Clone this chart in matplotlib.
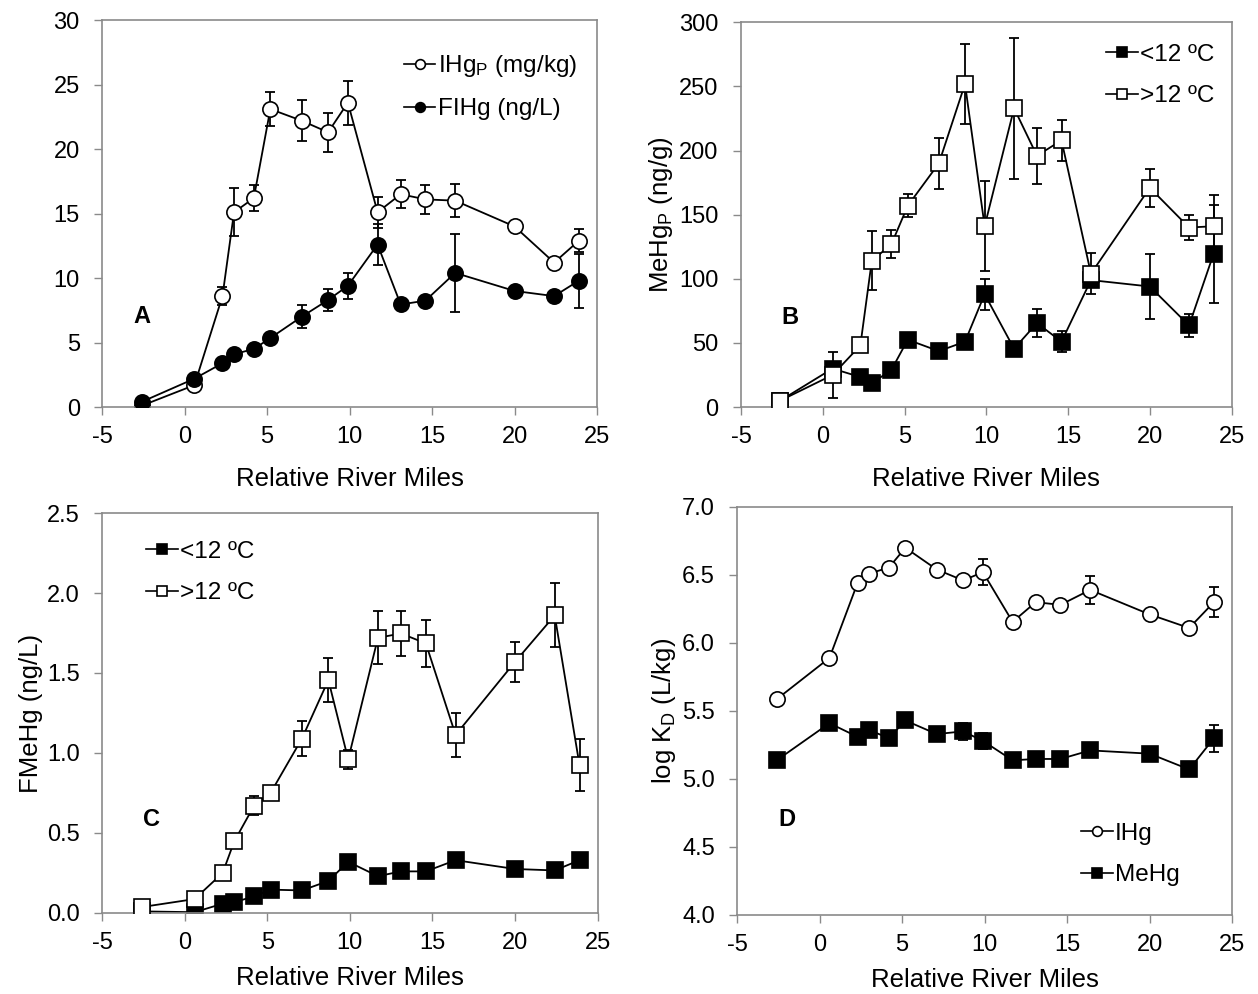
import matplotlib
matplotlib.use('Agg')
import matplotlib.pyplot as plt
from matplotlib.lines import Line2D
import numpy as np

plt.rcParams['font.family'] = ['Liberation Sans', 'DejaVu Sans']
plt.rcParams['mathtext.fontset'] = 'custom'
plt.rcParams['mathtext.rm'] = 'Liberation Sans'
plt.rcParams['mathtext.it'] = 'Liberation Sans'
plt.rcParams['axes.unicode_minus'] = False

# relative river miles (shared by all panels)
miles = [-2.6, 0.6, 2.3, 3.0, 4.2, 5.2, 7.1, 8.7, 9.9, 11.7, 13.1, 14.6, 16.4, 20.0, 22.4, 23.9]

# panel A
ihgp = [0.1, 1.7, 8.6, 15.1, 16.2, 23.1, 22.2, 21.3, 23.6, 15.1, 16.5, 16.1, 16.0, 14.0, 11.2, 12.9]
ihgp_err = [0, 0, 0.7, 1.85, 1.0, 1.3, 1.6, 1.5, 1.7, 1.2, 1.1, 1.1, 1.3, 0, 0, 0.9]
fihg = [0.4, 2.2, 3.4, 4.1, 4.5, 5.35, 7.0, 8.3, 9.4, 12.6, 7.95, 8.25, 10.4, 9.0, 8.6, 9.8]
fihg_err = [0, 0, 0, 0, 0, 0, 0.9, 0.85, 1.0, 1.6, 0, 0, 3.0, 0, 0, 2.1]

# panel B
mehgp_cold = [5, 30, 23.4, 18.5, 29, 52.5, 43.6, 51, 88, 45.5, 65.5, 51, 99, 94, 63.6, 119.5]
mehgp_cold_err = [0, 0, 0, 0, 0, 0, 0, 0, 12, 0, 11, 8, 0, 25, 9, 38]
mehgp_warm = [5, 25, 48, 114, 127, 157, 190, 252, 141, 233, 196, 208, 104, 171, 140, 141]
mehgp_warm_err = [0, 18, 0, 23, 11, 9, 20, 31, 35, 55, 22, 16, 16, 15, 10, 24]

# panel C
fmehg_cold = [0.01, 0.005, 0.058, 0.067, 0.104, 0.146, 0.141, 0.2, 0.32, 0.23, 0.26, 0.26, 0.33, 0.275, 0.266, 0.33]
fmehg_warm = [0.037, 0.087, 0.25, 0.447, 0.67, 0.75, 1.09, 1.456, 0.96, 1.72, 1.747, 1.685, 1.113, 1.57, 1.86, 0.925]
fmehg_warm_err = [0, 0, 0, 0, 0.06, 0.04, 0.11, 0.135, 0.06, 0.165, 0.14, 0.145, 0.135, 0.125, 0.2, 0.16]

# panel D
logkd_ihg = [5.586, 5.89, 6.44, 6.51, 6.554, 6.70, 6.54, 6.46, 6.52, 6.155, 6.30, 6.28, 6.39, 6.21, 6.11, 6.30]
logkd_ihg_err = [0.03, 0, 0, 0, 0, 0, 0, 0, 0.095, 0, 0, 0, 0.1, 0, 0, 0.11]
logkd_mehg = [5.137, 5.41, 5.31, 5.36, 5.30, 5.43, 5.33, 5.35, 5.28, 5.137, 5.147, 5.147, 5.21, 5.186, 5.07, 5.30]
logkd_mehg_err = [0, 0.05, 0, 0, 0, 0, 0, 0.06, 0.06, 0, 0, 0, 0.05, 0, 0, 0.1]

TICK_FS = 17
LAB_FS = 18.5
LEG_FS = 17.5
GRAY = '#8a8a8a'
MS = 11


def series(ax, y, err, marker, face, z):
    x = np.array(miles)
    y = np.array(y)
    if err is not None:
        e = np.array(err)
        m = e > 0
        ax.errorbar(x[m], y[m], yerr=e[m], fmt='none', ecolor='black',
                    elinewidth=1.3, capsize=3.5, capthick=1.3, zorder=z)
    ax.plot(x, y, color='black', lw=1.3, marker=marker, ms=MS,
            mfc=face, mec='black', mew=1.2, zorder=z + 0.5)


def style(ax, ylim, yticks, fmt, ylabel, letter, xpad):
    ax.set_xlim(-5, 25)
    ax.set_xticks(range(-5, 26, 5))
    ax.set_ylim(*ylim)
    ax.set_yticks(yticks)
    ax.set_yticklabels([fmt.format(v) for v in yticks])
    for s in ax.spines.values():
        s.set_color(GRAY)
        s.set_linewidth(1.2)
    ax.tick_params(direction='out', length=6, width=1, color=GRAY,
                   labelsize=TICK_FS)
    ax.tick_params(axis='x', pad=8)
    ax.tick_params(axis='y', pad=10)
    ax.set_xlabel('Relative River Miles', fontsize=LAB_FS, labelpad=xpad)
    if ylabel:
        ax.set_ylabel(ylabel, fontsize=LAB_FS, labelpad=3)
    ax.text(0.08 if letter == 'A' else 0.1, 0.233, letter, transform=ax.transAxes,
            fontsize=17, fontweight='bold', ha='center', va='center')


def legend(ax, labels, markers, faces, loc, anchor):
    handles = [Line2D([], [], color='black', lw=1.2, marker=m, ms=7,
                      mfc=f, mec='black', mew=1.2) for m, f in zip(markers, faces)]
    ax.legend(handles, labels, loc=loc, bbox_to_anchor=anchor, frameon=False,
              fontsize=LEG_FS, handlelength=1.3, handletextpad=0.1,
              labelspacing=0.8, borderaxespad=0)


fig = plt.figure(figsize=(12.58, 9.94), dpi=100)
axA = fig.add_axes([0.0811, 0.5905, 0.3935, 0.3893])
axB = fig.add_axes([0.589, 0.5905, 0.390, 0.387])
axC = fig.add_axes([0.0811, 0.0815, 0.394, 0.4024])
axD = fig.add_axes([0.5859, 0.0795, 0.3935, 0.4105])

# A
series(axA, ihgp, ihgp_err, 'o', 'white', 2)
series(axA, fihg, fihg_err, 'o', 'black', 3)
style(axA, (0, 30), list(range(0, 31, 5)), '{:d}', None, 'A', 13)
legend(axA, ['IHg$_\\mathrm{P}$ (mg/kg)', 'FIHg (ng/L)'], ['o', 'o'],
       ['white', 'black'], 'upper left', (0.59, 0.94))

# B
series(axB, mehgp_cold, mehgp_cold_err, 's', 'black', 2)
series(axB, mehgp_warm, mehgp_warm_err, 's', 'white', 3)
style(axB, (0, 300), list(range(0, 301, 50)), '{:d}', 'MeHg$_\\mathrm{P}$ (ng/g)', 'B', 13)
legend(axB, ['<12 \u00baC', '>12 \u00baC'], ['s', 's'], ['black', 'white'],
       'upper left', (0.725, 0.97))

# C
series(axC, fmehg_cold, None, 's', 'black', 2)
series(axC, fmehg_warm, fmehg_warm_err, 's', 'white', 3)
style(axC, (0, 2.5), [0, 0.5, 1.0, 1.5, 2.0, 2.5], '{:.1f}', 'FMeHg (ng/L)', 'C', 8)
legend(axC, ['<12 \u00baC', '>12 \u00baC'], ['s', 's'], ['black', 'white'],
       'upper left', (0.07, 0.955))

# D
series(axD, logkd_ihg, logkd_ihg_err, 'o', 'white', 2)
series(axD, logkd_mehg, logkd_mehg_err, 's', 'black', 3)
style(axD, (4.0, 7.0), [4.0, 4.5, 5.0, 5.5, 6.0, 6.5, 7.0], '{:.1f}', 'log K$_\\mathrm{D}$ (L/kg)', 'D', 8)
legend(axD, ['IHg', 'MeHg'], ['o', 's'], ['white', 'black'],
       'upper left', (0.675, 0.25))

fig.savefig('out.png', dpi=100)
